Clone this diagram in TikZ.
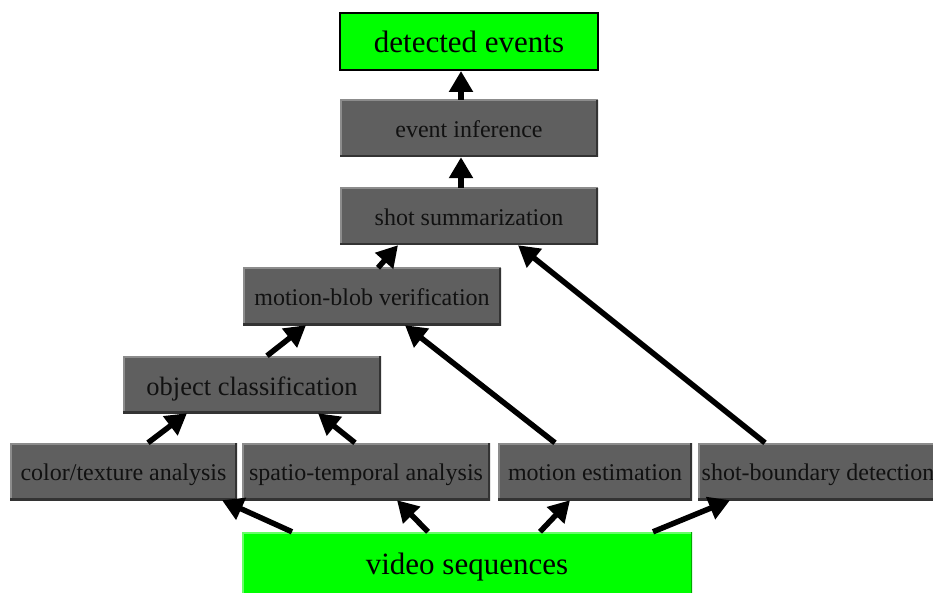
\documentclass[tikz,border=0pt]{standalone}
\usepackage{fontspec}
\setmainfont{Liberation Serif}
\usetikzlibrary{arrows.meta,calc}
\definecolor{boxgray}{HTML}{5F5F5F}
\definecolor{boxlight}{HTML}{8C8C8C}
\definecolor{boxdark}{HTML}{333333}
\definecolor{txtdark}{HTML}{111111}
\definecolor{vidlight}{HTML}{66FF66}
\definecolor{viddark}{HTML}{00AA00}

\tikzset{
  stage/.style={fill=boxgray,text=txtdark,minimum height=57pt,inner sep=0pt,
    text height=24pt,text depth=6pt,
    font=\fontsize{24}{28}\selectfont,
    path picture={
      \draw[line width=3pt,boxlight] (path picture bounding box.south west)
        |- (path picture bounding box.north east);
      \draw[line width=4pt,boxdark] (path picture bounding box.south west)
        -| (path picture bounding box.north east);}},
  result/.style={fill=green,draw=black,line width=2pt,minimum width=258pt,
    minimum height=57pt,font=\fontsize{31}{36}\selectfont},
  source/.style={fill=green,minimum width=450pt,minimum height=70pt,inner sep=0pt,
    font=\fontsize{31}{36}\selectfont,
    path picture={
      \draw[line width=3pt,vidlight] (path picture bounding box.south west)
        |- (path picture bounding box.north east);
      \draw[line width=3pt,viddark] (path picture bounding box.south west)
        -| (path picture bounding box.north east);}},
  flow/.style={-{Triangle[length=21pt,width=23pt]},line width=5.5pt}
}

\begin{document}
\begin{tikzpicture}[x=1pt,y=-1pt]
\clip (0,0) rectangle (933,593);
\fill[white] (0,0) rectangle (933,593);

\node[result] (det) at (469,41.5) {detected events};
\node[stage,minimum width=258pt] (inf) at (469,128.5) {event inference};
\node[stage,minimum width=258pt] (summ) at (469,216.5) {shot summarization};
\node[stage,minimum width=258pt] (blob) at (372,296.5) {motion-blob verification};
\node[stage,minimum width=258pt,font=\fontsize{26.5}{30}\selectfont,text height=26pt,text depth=5pt] (obj) at (252,384.5) {object classification};
\node[stage,minimum width=227pt] (col) at (123.5,471.5) {color/texture analysis};
\node[stage,minimum width=248pt] (spt) at (366,471.5) {spatio-temporal analysis};
\node[stage,minimum width=194pt] (mot) at (595,471.5) {motion estimation};
\node[stage,minimum width=240pt] (shb) at (818,471.5) {shot-boundary detection};
\node[source] (vid) at (467,567) {video sequences};

\path[flow]
	([xshift=-8pt]inf.north) edge ([xshift=-8pt]det.south)
	([xshift=-8pt]summ.north) edge ([xshift=-8pt]inf.south)
	([xshift=6pt]blob.north) edge ([xshift=-71pt]summ.south)
	([xshift=15pt]obj.north) edge ([xshift=-66pt]blob.south)
	([xshift=-40pt]mot.north) edge ([xshift=33pt]blob.south)
	([xshift=-53pt]shb.north) edge ([xshift=49pt]summ.south)
	([xshift=24.5pt]col.north) edge ([xshift=-65pt]obj.south)
	([xshift=-11pt]spt.north) edge ([xshift=66pt]obj.south);
\path[flow]
	([xshift=-175pt]vid.north) edge ([xshift=98.5pt]col.south)
	([xshift=-39pt]vid.north) edge ([xshift=31pt]spt.south)
	([xshift=73pt]vid.north) edge ([xshift=-25pt]mot.south)
	([xshift=186pt]vid.north) edge ([xshift=-88pt]shb.south);

\end{tikzpicture}
\end{document}
